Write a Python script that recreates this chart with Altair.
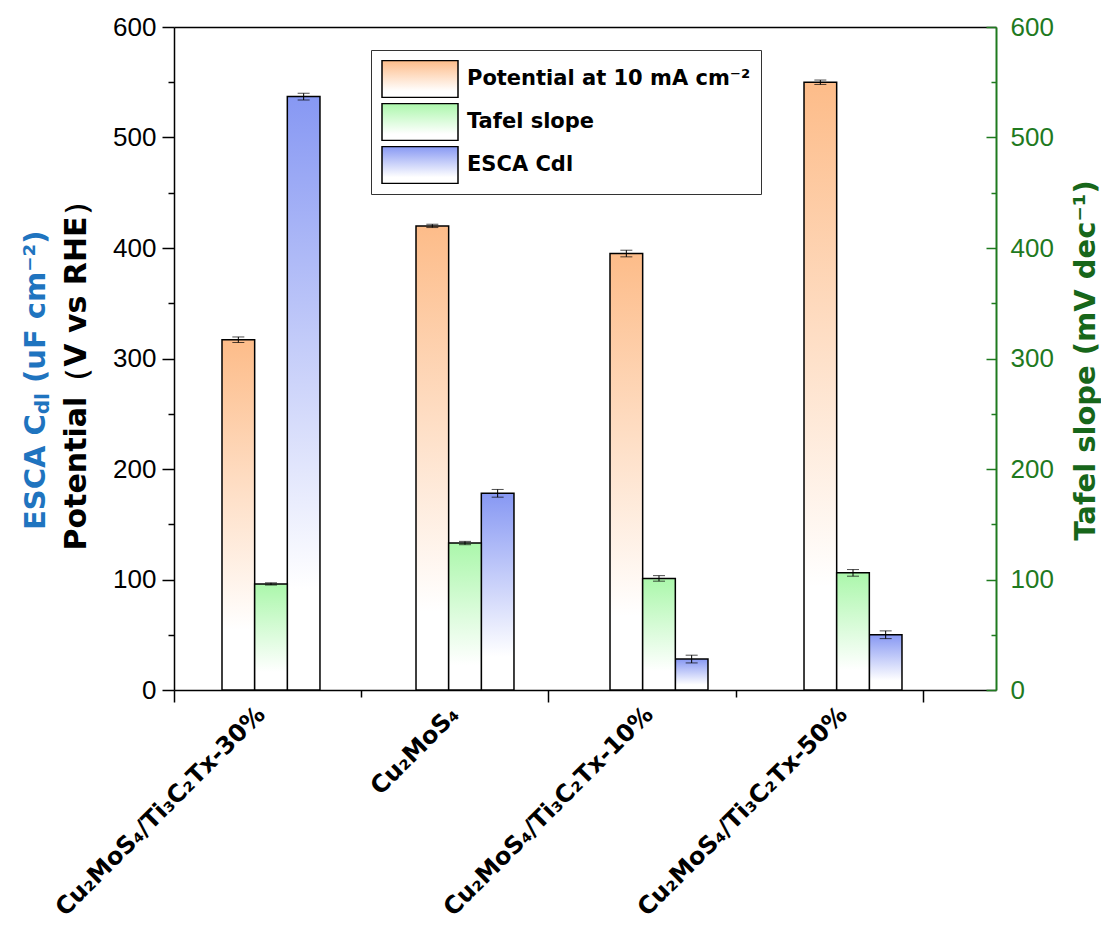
import altair as alt
import pandas as pd

# ---------------- data ----------------
categories = ['Cu₂MoS₄/Ti₃C₂Tx-30%', 'Cu₂MoS₄', 'Cu₂MoS₄/Ti₃C₂Tx-10%', 'Cu₂MoS₄/Ti₃C₂Tx-50%']
series_names = ['Potential at 10 mA cm⁻²', 'Tafel slope', 'ESCA Cdl']
potential = [317, 420, 395, 550]
potential_err = [2.5, 1.5, 3.0, 2.0]
tafel = [96, 133, 101, 106]
tafel_err = [1.0, 1.5, 2.5, 3.0]
esca = [537, 178, 28, 50]
esca_err = [3.0, 3.5, 3.5, 3.5]
y_ticks = list(range(0, 601, 50))
x_minor_ticks = [0, 1, 2, 3, 4]

rows = []
for vals, errs, name in zip([potential, tafel, esca], [potential_err, tafel_err, esca_err], series_names):
    for cat, v, e in zip(categories, vals, errs):
        rows.append({'cat': cat, 'series': name, 'value': v, 'lo': v - e, 'hi': v + e})
df = pd.DataFrame(rows)

# ---------------- style ----------------
W, H = 822, 663
top_colors = ['#FDBC89', '#ABF7AB', '#8798F3']
GREEN = '#1F7A1F'
GREEN_T = '#17661A'
BLUE_T = '#1F74BF'
BOLD = 'DejaVu Sans'
REG = 'Liberation Sans'
WHITE_AT = 0.83


def grad(c):
    return alt.Gradient(gradient='linear',
                        stops=[alt.GradientStop(color=c, offset=0),
                               alt.GradientStop(color='#FFFFFF', offset=WHITE_AT)],
                        x1=0, x2=0, y1=0, y2=1)


def grad_expr(c):
    return ("{gradient:'linear',x1:0,y1:0,x2:0,y2:1,stops:[{offset:0,color:'%s'},"
            "{offset:%s,color:'#ffffff'}]}" % (c, WHITE_AT))


fill_sig = "datum.index === 1 ? %s : (datum.index === 2 ? %s : %s)" % (
    grad_expr(top_colors[1]), grad_expr(top_colors[2]), grad_expr(top_colors[0]))

x_scale = alt.Scale(domain=categories, paddingInner=0.495, paddingOuter=0.366, align=0.338)
x_axis = alt.Axis(orient='bottom', title=None, ticks=False, domain=True, domainColor='black',
                  domainWidth=1.5, labelAngle=-45, labelAlign='right', labelBaseline='top',
                  labelPadding=12, labelOffset=-18, labelFont=BOLD, labelFontWeight='bold',
                  labelFontSize=24, labelColor='black', labelLimit=600, labelOverlap=False)
x_enc = alt.X('cat:N', sort=categories, scale=x_scale, axis=x_axis)
xo_enc = alt.XOffset('series:N', sort=series_names,
                     scale=alt.Scale(domain=series_names, paddingInner=0, paddingOuter=0))

y_scale = alt.Scale(domain=[0, 600], nice=False, zero=True)
left_axis = alt.Axis(orient='left', values=y_ticks,
                     labelExpr="datum.value % 100 === 0 ? datum.label : ''",
                     tickSize={'expr': 'datum.value % 100 === 0 ? 12 : 6'},
                     tickColor='black', tickWidth=1.5, domainColor='black', domainWidth=1.5,
                     labelFont=REG, labelFontSize=26, labelColor='black', labelPadding=6,
                     grid=False, labelOverlap=False,
                     title='Potential（V vs RHE）', titleFont=BOLD, titleFontWeight='bold',
                     titleFontSize=30, titleColor='black', titleAngle=270, titleAlign='center',
                     titleBaseline='middle', titleX=-98, titleY=341)
right_axis = alt.Axis(orient='right', values=y_ticks,
                      labelExpr="datum.value % 100 === 0 ? datum.label : ''",
                      tickSize={'expr': 'datum.value % 100 === 0 ? -10 : -5'},
                      tickColor=GREEN, tickWidth=1.5, domainColor=GREEN, domainWidth=2,
                      labelFont=REG, labelFontSize=26, labelColor=GREEN, labelPadding=24,
                      grid=False, labelOverlap=False,
                      title='Tafel slope (mV dec⁻¹)', titleFont=BOLD, titleFontWeight='bold',
                      titleFontSize=29, titleColor=GREEN_T, titleAngle=270, titleAlign='center',
                      titleBaseline='middle', titleX=89, titleY=333)

legend = alt.Legend(title=None, orient='none', legendX=197, legendY=23, direction='vertical',
                    symbolType='M-1,-0.487L1,-0.487L1,0.487L-1,0.487Z', symbolSize=5776,
                    symbolStrokeWidth=1.5, symbolFillColor={'expr': fill_sig}, symbolOpacity=1,
                    clipHeight=38, rowPadding=5, labelFont=BOLD, labelFontWeight='bold',
                    labelFontSize=21, labelColor='black', labelOffset=8, labelLimit=500,
                    padding=10, strokeColor='#333333', fillColor='white')

# empty layer that only carries the legend (stroke scale gives the entries; a fill
# field, with its own data-driven scale, lets the symbols take symbolFillColor)
legend_owner = alt.Chart(df).transform_calculate(fillkey='datum.series').transform_filter(
    'false').mark_bar(strokeWidth=1.5).encode(
    x=x_enc, xOffset=xo_enc, y=alt.Y('value:Q', scale=y_scale, axis=left_axis),
    stroke=alt.Stroke('series:N', scale=alt.Scale(domain=series_names, range=['black'] * 3),
                      legend=legend),
    fill=alt.Fill('fillkey:N', legend=None))


def series_layers(idx, axis):
    name = series_names[idx]
    d = alt.Chart(df).transform_filter(alt.datum.series == name)
    bars = d.mark_bar(fill=grad(top_colors[idx]), stroke='black', strokeWidth=1.5).encode(
        x=x_enc, xOffset=xo_enc, y=alt.Y('value:Q', scale=y_scale, axis=axis))
    rule = d.mark_rule(color='black', strokeWidth=1).encode(
        x=x_enc, xOffset=xo_enc,
        y=alt.Y('lo:Q', scale=y_scale, axis=axis), y2='hi:Q')
    cap_lo = d.mark_tick(color='black', size=12, thickness=1, orient='horizontal').encode(
        x=x_enc, xOffset=xo_enc, y=alt.Y('lo:Q', scale=y_scale, axis=axis))
    cap_hi = d.mark_tick(color='black', size=12, thickness=1, orient='horizontal').encode(
        x=x_enc, xOffset=xo_enc, y=alt.Y('hi:Q', scale=y_scale, axis=axis))
    return [bars, rule, cap_lo, cap_hi]


def title_piece(txt, fs, dx, dy):
    return alt.Chart(pd.DataFrame({'t': [txt]})).mark_text(
        angle=270, align='left', baseline='middle', font=BOLD, fontWeight='bold',
        fontSize=fs, color=BLUE_T, dx=dx, dy=dy).encode(
        x=alt.value(-138), y=alt.value(503), text='t:N')


FS_B = 29
w1 = 3.993 * FS_B
w2 = 1.059 * 20
blue_title = [title_piece('ESCA C', FS_B, 0, 0),
              title_piece('dl', 20, w1, 7),
              title_piece('(uF cm⁻²)', FS_B, w1 + w2 + 0.348 * FS_B, 0)]

left_group = alt.layer(*([legend_owner] + series_layers(0, left_axis) + series_layers(2, left_axis)
                         + blue_title))
right_group = alt.layer(*series_layers(1, right_axis))
main = alt.layer(left_group, right_group).resolve_scale(y='independent')

ticks_df = pd.DataFrame({'t': x_minor_ticks})
ticks_layer = alt.Chart(ticks_df).mark_point(opacity=0).encode(
    x=alt.X('t:Q', scale=alt.Scale(domain=[0, 4.39], nice=False, zero=False),
            axis=alt.Axis(orient='bottom', values=x_minor_ticks, labels=False, domain=False,
                          grid=False, title=None, tickColor='black', tickWidth=1.5,
                          tickSize={'expr': 'datum.value % 2 === 0 ? 12 : 7'})))
border_layer = alt.Chart(ticks_df).mark_point(opacity=0).encode(
    x=alt.X('t:Q', scale=alt.Scale(domain=[0, 4.39], nice=False, zero=False),
            axis=alt.Axis(orient='top', labels=False, ticks=False, domain=True,
                          domainColor='black', domainWidth=1.5, grid=False, title=None)))

chart = alt.layer(main, ticks_layer, border_layer).resolve_scale(
    x='independent', y='independent').properties(
    width=W, height=H,
    autosize=alt.AutoSizeParams(type='none'),
    padding={'left': 166, 'top': 19, 'right': 105, 'bottom': 233},
    background='white').configure_view(stroke=None)

chart.save("out.html", embed_options={"renderer": "svg", "actions": False})
